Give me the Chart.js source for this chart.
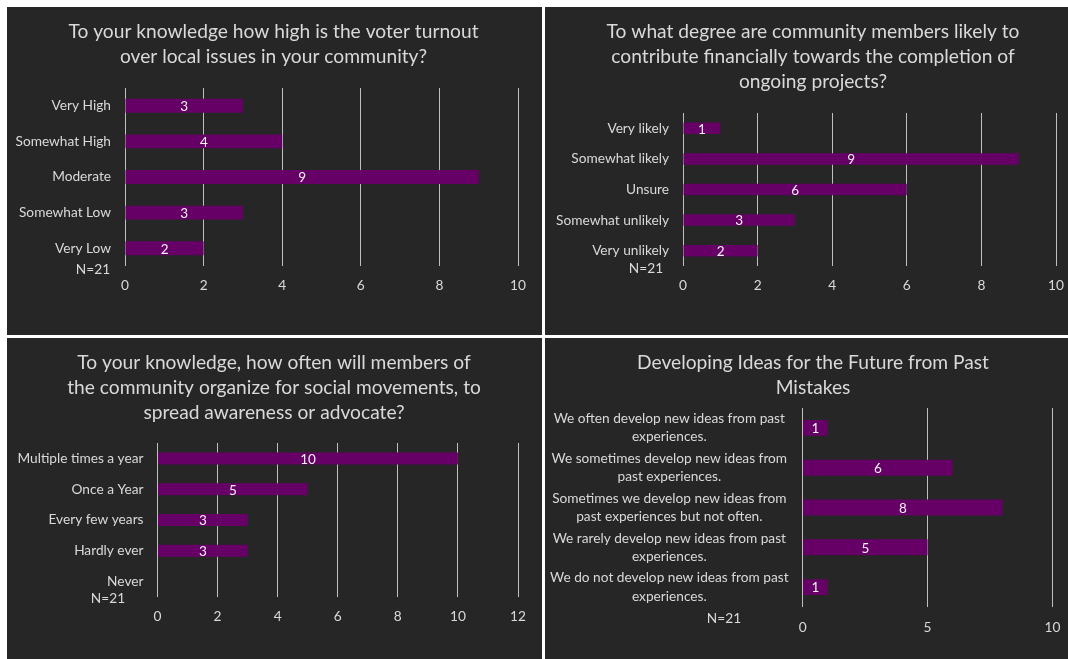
<!DOCTYPE html>
<html>
<head>
<meta charset="utf-8">
<script src="https://cdn.jsdelivr.net/npm/chart.js@4.4.1/dist/chart.umd.min.js"></script>
<style>
  body { margin: 0; background: #fff; width: 1068px; height: 659px; position: relative; overflow: hidden; }
  canvas { position: absolute; background: #262626; }
</style>
</head>
<body>
<canvas id="c1" width="535" height="328" style="left:7px;top:7px"></canvas>
<canvas id="c2" width="523" height="328" style="left:545px;top:7px"></canvas>
<canvas id="c3" width="535" height="321" style="left:7px;top:338px"></canvas>
<canvas id="c4" width="523" height="321" style="left:545px;top:338px"></canvas>
<script>
// chart data
const turnoutLabels = ['Very High', 'Somewhat High', 'Moderate', 'Somewhat Low', 'Very Low'];
const turnoutValues = [3, 4, 9, 3, 2];

const contributeLabels = ['Very likely', 'Somewhat likely', 'Unsure', 'Somewhat unlikely', 'Very unlikely'];
const contributeValues = [1, 9, 6, 3, 2];

const organizeLabels = ['Multiple times a year', 'Once a Year', 'Every few years', 'Hardly ever', 'Never'];
const organizeValues = [10, 5, 3, 3, 0];

const ideasLabels = [
  ['We often develop new ideas from past', 'experiences.'],
  ['We sometimes develop new ideas from', 'past experiences.'],
  ['Sometimes we develop new ideas from', 'past experiences but not often.'],
  ['We rarely develop new ideas from past', 'experiences.'],
  ['We do not develop new ideas from past', 'experiences.']
];
const ideasValues = [1, 6, 8, 5, 1];

const sampleNote = 'N=21';

const FONT = "Lato, 'Open Sans', sans-serif";
const TEXT = '#d9d9d9';
const BAR = '#660066';
const GRID = '#bfbfbf';

// value labels in the middle of each bar
const barValues = {
  id: 'barValues',
  afterDatasetsDraw(chart) {
    const ctx = chart.ctx;
    const meta = chart.getDatasetMeta(0);
    const data = chart.data.datasets[0].data;
    ctx.save();
    ctx.font = '13.5px ' + FONT;
    ctx.fillStyle = '#f2f2f2';
    ctx.textAlign = 'center';
    ctx.textBaseline = 'middle';
    meta.data.forEach((bar, i) => {
      if (!data[i]) return;
      ctx.fillText(String(data[i]), (bar.base + bar.x) / 2, bar.y + 1);
    });
    ctx.restore();
  }
};

// title lines and the "N=21" note (title is centred on the panel, not the plot)
const panelText = {
  id: 'panelText',
  afterDraw(chart, args, opts) {
    const ctx = chart.ctx;
    ctx.save();
    ctx.fillStyle = TEXT;
    ctx.textAlign = 'center';
    ctx.textBaseline = 'middle';
    ctx.font = '19.2px ' + FONT;
    opts.title.forEach((line, i) => {
      ctx.fillText(line, opts.titleX, opts.titleY + i * 25);
    });
    ctx.font = '13.7px ' + FONT;
    ctx.fillText(opts.note, opts.noteX, opts.noteY);
    ctx.restore();
  }
};

function makeChart(id, cfg) {
  return new Chart(document.getElementById(id), {
    type: 'bar',
    data: {
      labels: cfg.labels,
      datasets: [{
        data: cfg.values,
        backgroundColor: BAR,
        borderWidth: 0,
        categoryPercentage: 1,
        barPercentage: cfg.barPct
      }]
    },
    options: {
      indexAxis: 'y',
      responsive: false,
      animation: false,
      devicePixelRatio: 1,
      layout: { padding: { left: 0, top: cfg.plotTop, right: cfg.padRight, bottom: 0 } },
      plugins: {
        legend: { display: false },
        tooltip: { enabled: false },
        title: { display: false },
        panelText: {
          title: cfg.title, titleX: cfg.titleX, titleY: 25,
          note: sampleNote, noteX: cfg.noteX, noteY: cfg.noteY
        }
      },
      scales: {
        x: {
          min: 0,
          max: cfg.max,
          ticks: { stepSize: cfg.step, color: TEXT, padding: cfg.xPad, font: { family: FONT, size: 13.7 } },
          grid: { color: GRID, lineWidth: 1, drawTicks: false },
          border: { display: false },
          afterFit: s => { s.height = cfg.xHeight; s.paddingLeft = 0; s.paddingRight = 0; }
        },
        y: {
          ticks: {
            color: TEXT,
            padding: 14,
            crossAlign: cfg.crossAlign || 'near',
            font: { family: FONT, size: 13.7, lineHeight: cfg.labelLh || 1.2 }
          },
          grid: { display: false, drawTicks: false },
          border: { display: false },
          afterFit: s => { s.width = cfg.yWidth; s.paddingTop = 0; s.paddingBottom = 0; }
        }
      }
    },
    plugins: [barValues, panelText]
  });
}

makeChart('c1', {
  labels: turnoutLabels, values: turnoutValues,
  title: ['To your knowledge how high is the voter turnout', 'over local issues in your community?'],
  titleX: 266.5, plotTop: 81,
  max: 10, step: 2, barPct: 0.39,
  padRight: 24, yWidth: 118, xHeight: 69, xPad: 11,
  noteX: 86, noteY: 263
});

makeChart('c2', {
  labels: contributeLabels, values: contributeValues,
  title: ['To what degree are community members likely to', 'contribute financially towards the completion of', 'ongoing projects?'],
  titleX: 268, plotTop: 106,
  max: 10, step: 2, barPct: 0.375,
  padRight: 12, yWidth: 138, xHeight: 69, xPad: 11,
  noteX: 101, noteY: 262
});

makeChart('c3', {
  labels: organizeLabels, values: organizeValues,
  title: ['To your knowledge, how often will members of', 'the community organize for social movements, to', 'spread awareness or advocate?'],
  titleX: 267, plotTop: 105,
  max: 12, step: 2, barPct: 0.39,
  padRight: 24, yWidth: 150.5, xHeight: 62, xPad: 11,
  noteX: 101, noteY: 261
});

makeChart('c4', {
  labels: ideasLabels, values: ideasValues,
  title: ['Developing Ideas for the Future from Past', 'Mistakes'],
  titleX: 268, plotTop: 70,
  max: 10, step: 5, barPct: 0.4,
  padRight: 15.5, yWidth: 257.6, xHeight: 52, xPad: 12,
  crossAlign: 'center', labelLh: 18.3 / 13.7,
  noteX: 179, noteY: 281
});
</script>
</body>
</html>
